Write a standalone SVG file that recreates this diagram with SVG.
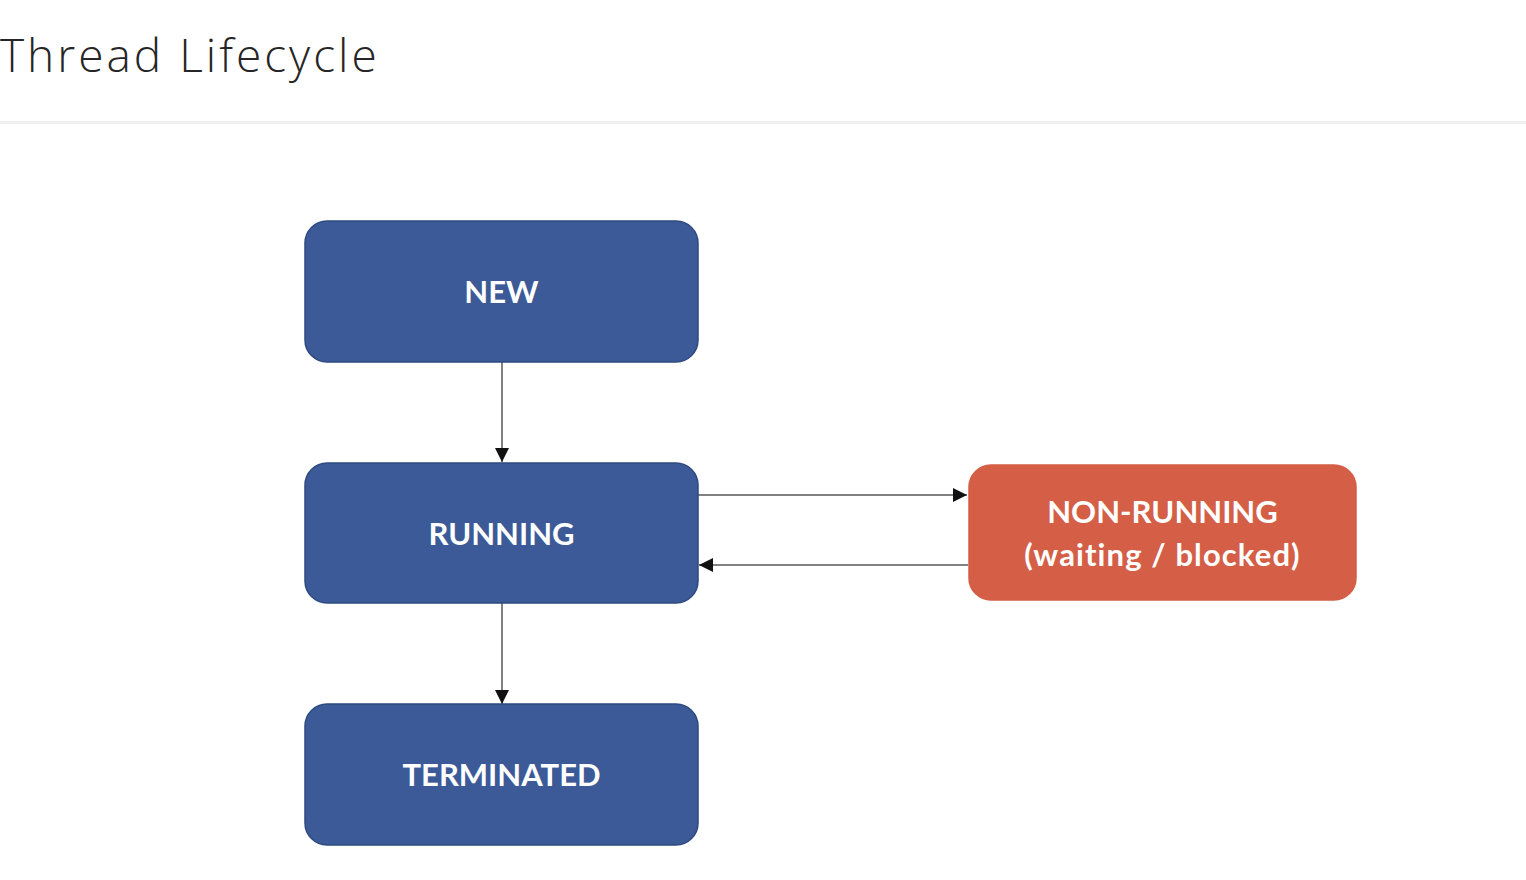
<svg xmlns="http://www.w3.org/2000/svg" width="1526" height="880" viewBox="0 0 1526 880">
<defs>
<style>
.title{font-family:"Open Sans","Liberation Sans",sans-serif;font-weight:300;font-size:46px;fill:#262626;letter-spacing:3px}
.box{fill:#3B5A97;stroke:#2E4A80;stroke-width:1.5}
.alt{fill:#D45E46;stroke:#D45E46;stroke-width:1.5}
.lbl{font-family:"Lato","Liberation Sans",sans-serif;font-weight:700;font-size:31px;fill:#FFFFFF;text-anchor:middle;font-variant-ligatures:none}
.sub{letter-spacing:1.1px}
.conn{stroke:#595959;stroke-width:1.5;fill:none}
</style>
<marker id="arr" viewBox="0 0 14 14" refX="14" refY="7" markerWidth="14" markerHeight="14" markerUnits="userSpaceOnUse" orient="auto">
<path d="M0,0 L14,7 L0,14 Z" fill="#111"/>
</marker>
</defs>
<rect width="1526" height="880" fill="#FFFFFF"/>
<text class="title" x="0" y="72">Thread Lifecycle</text>
<rect x="0" y="121" width="1526" height="3" fill="#F0F0F0"/>
<g id="connectors">
<line class="conn" x1="502" y1="362" x2="502" y2="462" marker-end="url(#arr)"/>
<line class="conn" x1="698" y1="495" x2="967" y2="495" marker-end="url(#arr)"/>
<line class="conn" x1="968" y1="565" x2="699" y2="565" marker-end="url(#arr)"/>
<line class="conn" x1="502" y1="603" x2="502" y2="704" marker-end="url(#arr)"/>
</g>
<g id="node-new">
<rect class="box" x="305" y="221" width="393" height="141" rx="22"/>
<text class="lbl" x="501.5" y="303">NEW</text>
</g>
<g id="node-running">
<rect class="box" x="305" y="463" width="393" height="140" rx="22"/>
<text class="lbl" x="501.5" y="545">RUNNING</text>
</g>
<g id="node-terminated">
<rect class="box" x="305" y="704" width="393" height="141" rx="22"/>
<text class="lbl" x="501.5" y="786">TERMINATED</text>
</g>
<g id="node-nonrunning">
<rect class="alt" x="969" y="465" width="387" height="135" rx="22"/>
<text class="lbl" x="1162.5" y="523">NON-RUNNING</text>
<text class="lbl sub" x="1162.5" y="566">(waiting / blocked)</text>
</g>
</svg>
